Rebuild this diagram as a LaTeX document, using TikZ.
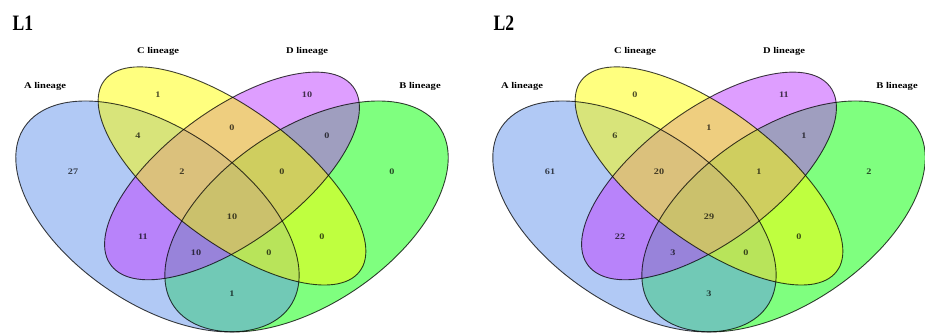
\documentclass[tikz,border=0pt]{standalone}
\usepackage{fontspec}
\setmainfont{Liberation Serif}
\newfontfamily\widefont[FakeStretch=1.2]{Liberation Serif}
\newfontfamily\titlefont[FakeStretch=0.8]{Liberation Serif}
\definecolor{cA}{RGB}{100,149,237}
\definecolor{cB}{RGB}{0,255,0}
\definecolor{cC}{RGB}{255,255,0}
\definecolor{cD}{RGB}{191,62,255}
\tikzset{
  vfill/.style={fill opacity=0.5},
  vline/.style={draw=black, draw opacity=0.75, line width=0.9pt},
  paneltitle/.style={font=\titlefont\bfseries\fontsize{22}{22}\selectfont, inner sep=0pt},
  setlbl/.style={font=\widefont\bfseries\fontsize{8.8}{10}\selectfont, inner sep=0pt},
  num/.style={font=\widefont\bfseries\fontsize{8.5}{10}\selectfont, text opacity=0.7, inner sep=0pt}
}
\newcommand\drawvennsets{%
  \fill[cB,vfill,rotate around={45:(0.65,0.47)}] (0.65,0.47) ellipse (0.35 and 0.2);
  \fill[cA,vfill,rotate around={135:(0.35,0.47)}] (0.35,0.47) ellipse (0.35 and 0.2);
  \fill[cD,vfill,rotate around={45:(0.5,0.57)}] (0.5,0.57) ellipse (0.33 and 0.15);
  \fill[cC,vfill,rotate around={135:(0.5,0.57)}] (0.5,0.57) ellipse (0.35 and 0.15);
  \draw[vline,rotate around={45:(0.65,0.47)}] (0.65,0.47) ellipse (0.35 and 0.2);
  \draw[vline,rotate around={135:(0.35,0.47)}] (0.35,0.47) ellipse (0.35 and 0.2);
  \draw[vline,rotate around={45:(0.5,0.57)}] (0.5,0.57) ellipse (0.33 and 0.15);
  \draw[vline,rotate around={135:(0.5,0.57)}] (0.5,0.57) ellipse (0.35 and 0.15);
}
\begin{document}
\begin{tikzpicture}[x=1pt,y=1pt]
\useasboundingbox (0,0) rectangle (925,333);
\fill[white] (0,0) rectangle (925,333);
% set ellipses of both panels
\begin{scope}
  \clip (0,0) rectangle (925,333);
  \begin{scope}[shift={(-16.5,-73.8)}, xscale=497, yscale=405]
    \drawvennsets
  \end{scope}
  \begin{scope}[shift={(460.5,-73.8)}, xscale=497, yscale=405]
    \drawvennsets
  \end{scope}
\end{scope}
% left panel text
\node[paneltitle] (t1) at (23,310) {L1};
\node[setlbl] (l1C) at (158,282) {C lineage};
\node[setlbl] (l1D) at (307,282) {D lineage};
\node[setlbl] (l1A) at (45,247) {A lineage};
\node[setlbl] (l1B) at (420,247) {B lineage};
\node[num] (n1a) at (158,238) {1};
\node[num] (n1b) at (307,238) {10};
\node[num] (n1c) at (138,197) {4};
\node[num] (n1d) at (232,205) {0};
\node[num] (n1e) at (327,197) {0};
\node[num] (n1f) at (73,161) {27};
\node[num] (n1g) at (182,161) {2};
\node[num] (n1h) at (282,161) {0};
\node[num] (n1i) at (392,161) {0};
\node[num] (n1j) at (232,116) {10};
\node[num] (n1k) at (143,96) {11};
\node[num] (n1l) at (322,96) {0};
\node[num] (n1m) at (196,80) {10};
\node[num] (n1n) at (269,80) {0};
\node[num] (n1o) at (232,39) {1};
% right panel text
\node[paneltitle] (t2) at (504,310) {L2};
\node[setlbl] (l2C) at (635,282) {C lineage};
\node[setlbl] (l2D) at (784,282) {D lineage};
\node[setlbl] (l2A) at (522,247) {A lineage};
\node[setlbl] (l2B) at (897,247) {B lineage};
\node[num] (n2a) at (635,238) {0};
\node[num] (n2b) at (784,238) {11};
\node[num] (n2c) at (615,197) {6};
\node[num] (n2d) at (709,205) {1};
\node[num] (n2e) at (804,197) {1};
\node[num] (n2f) at (550,161) {61};
\node[num] (n2g) at (659,161) {20};
\node[num] (n2h) at (759,161) {1};
\node[num] (n2i) at (869,161) {2};
\node[num] (n2j) at (709,116) {29};
\node[num] (n2k) at (620,96) {22};
\node[num] (n2l) at (799,96) {0};
\node[num] (n2m) at (673,80) {3};
\node[num] (n2n) at (746,80) {0};
\node[num] (n2o) at (709,39) {3};
\end{tikzpicture}
\end{document}
